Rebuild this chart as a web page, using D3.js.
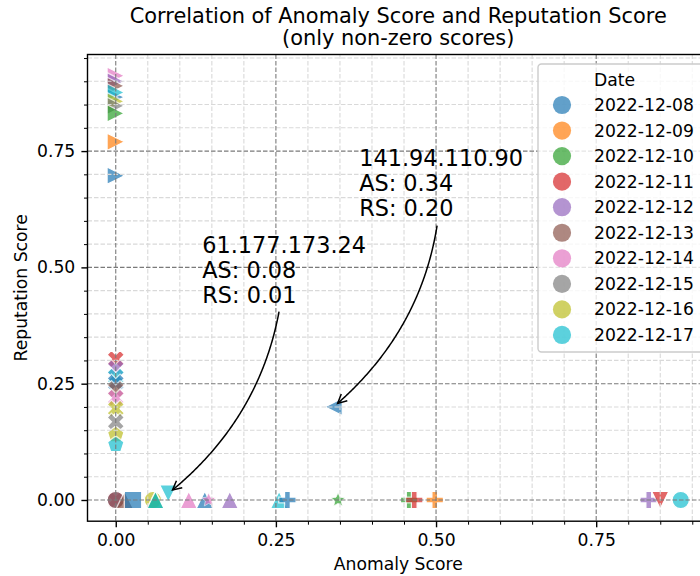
<!DOCTYPE html>
<html>
<head>
<meta charset="utf-8">
<script src="https://cdn.jsdelivr.net/npm/d3@7"></script>
<style>
  body { margin: 0; background: #fff; }
  svg { display: block; font-family: "DejaVu Sans", sans-serif; }
</style>
</head>
<body>
<svg id="chart" width="700" height="576"></svg>
<script>
// hue categories (legend)
var dates = ["2022-12-08", "2022-12-09", "2022-12-10", "2022-12-11", "2022-12-12",
             "2022-12-13", "2022-12-14", "2022-12-15", "2022-12-16", "2022-12-17"];
var colors = ["#1f77b4", "#ff7f0e", "#2ca02c", "#d62728", "#9467bd",
              "#8c564b", "#e377c2", "#7f7f7f", "#bcbd22", "#17becf"];

// one entry per point, in drawing order
var pointDate = [6, 4, 5, 0, 9, 8, 7, 2, 1, 0,
                 3, 4, 9, 0, 5, 6, 8, 7, 8, 9,
                 3, 4, 5, 5, 0, 8, 2, 9, 9, 6,
                 0, 6, 4, 9, 0, 2, 2, 3, 1, 4,
                 3, 9, 0];
var pointMarker = [">", ">", ">", ">", ">", ">", ">", ">", ">", ">",
                   "X", "X", "X", "X", "X", "X", "X", "X", "p", "p",
                   "X", "o", "o", "^", "s", "o", "^", "^", "v", "^",
                   "^", "*", "^", "^", "P", "*", "P", "P", "P", "P",
                   "v", "o", "<"];
var anomalyScore = [0, 0, 0, 0, 0, 0, 0, 0, 0, 0,
                    0, 0, 0, 0, 0, 0, 0, 0, 0, 0,
                    0, 0, 0, 0.014, 0.027, 0.058, 0.062, 0.062, 0.082, 0.114,
                    0.139, 0.145, 0.178, 0.255, 0.268, 0.347, 0.458, 0.466, 0.498, 0.832,
                    0.850, 0.882, 0.340];
var reputationScore = [0.912, 0.900, 0.890, 0.866, 0.876, 0.857, 0.847, 0.831, 0.770, 0.697,
                       0.303, 0.283, 0.265, 0.252, 0.238, 0.220, 0.196, 0.168, 0.142, 0.121,
                       0, 0, 0, 0, 0, 0, 0, 0, 0.014, 0,
                       0, 0, 0, 0, 0, 0, 0, 0, 0, 0,
                       0, 0, 0.200];

// annotated addresses
var annotIp = ["141.94.110.90", "61.177.173.24"];
var annotAS = [0.340, 0.082];
var annotRS = [0.200, 0.014];
var annotTextAS = [0.380, 0.135];
var annotTextRS = [0.717, 0.530];

var majorTicks = [0, 0.25, 0.5, 0.75];

var W = 700, H = 576;
var plot = {left: 87.5, right: 709, top: 54.5, bottom: 521.2};
var fs = 17.2;            // tick / label / legend font size
var msize = 17.4;         // marker size
var alpha = 0.7;

var svg = d3.select("#chart");

function padded(ext) {
  var d = (ext[1] - ext[0]) * 0.05;
  return [ext[0] - d, ext[1] + d];
}

var x = d3.scaleLinear().domain(padded(d3.extent(anomalyScore))).range([plot.left, plot.right]);
var y = d3.scaleLinear().domain(padded(d3.extent(reputationScore))).range([plot.bottom, plot.top]);

function minorTicks(scale) {
  var dom = scale.domain(), out = [];
  for (var i = -5; i <= 25; i++) {
    if (i % 5 === 0) continue;
    var v = i * 0.05;
    if (v >= dom[0] && v <= dom[1]) out.push(v);
  }
  return out;
}

// matplotlib-like marker paths
function markerPath(m, s) {
  var h = s / 2, t = s / 6;
  switch (m) {
    case "o":
      return d3.symbol().type(d3.symbolCircle).size(Math.PI * h * h)();
    case "s":
      return "M" + -h + "," + -h + "H" + h + "V" + h + "H" + -h + "Z";
    case "^":
      return "M0," + -h + "L" + h + "," + h + "L" + -h + "," + h + "Z";
    case "v":
      return "M0," + h + "L" + h + "," + -h + "L" + -h + "," + -h + "Z";
    case "<":
      return "M" + -h + ",0L" + h + "," + -h + "L" + h + "," + h + "Z";
    case ">":
      return "M" + h + ",0L" + -h + "," + -h + "L" + -h + "," + h + "Z";
    case "P":
      return "M" + -t + "," + -h + "H" + t + "V" + -t + "H" + h + "V" + t + "H" + t +
             "V" + h + "H" + -t + "V" + t + "H" + -h + "V" + -t + "H" + -t + "Z";
    case "X":
      var q = s / 4;
      var pts = [[-q, -h], [0, -q], [q, -h], [h, -q], [q, 0], [h, q], [q, h], [0, q], [-q, h], [-h, q], [-q, 0], [-h, -q]];
      return "M" + pts.map(function(p) { return p.join(","); }).join("L") + "Z";
    case "p":
      var pp = d3.range(5).map(function(i) {
        var a = -Math.PI / 2 + i * 2 * Math.PI / 5;
        return [h * Math.cos(a), h * Math.sin(a) + h * 0.1];
      });
      return "M" + pp.map(function(p) { return p.join(","); }).join("L") + "Z";
    case "*":
      var ro = s * 0.42, ri = ro * 0.47;
      var sp = d3.range(10).map(function(i) {
        var a = -Math.PI / 2 + i * Math.PI / 5, r = i % 2 ? ri : ro;
        return [r * Math.cos(a), r * Math.sin(a)];
      });
      return "M" + sp.map(function(p) { return p.join(","); }).join("L") + "Z";
  }
}

svg.append("rect").attr("width", W).attr("height", H).attr("fill", "#fff");

svg.append("defs").append("clipPath").attr("id", "clip")
  .append("rect")
    .attr("x", plot.left).attr("y", plot.top)
    .attr("width", plot.right - plot.left).attr("height", plot.bottom - plot.top);

// points
var pts = svg.append("g").attr("clip-path", "url(#clip)");
pts.selectAll("path.pt")
    .data(anomalyScore)
  .enter().append("path")
    .attr("class", "pt")
    .attr("d", function(d, i) { return markerPath(pointMarker[i], msize); })
    .attr("transform", function(d, i) { return "translate(" + x(d) + "," + y(reputationScore[i]) + ")"; })
    .attr("fill", function(d, i) { return colors[pointDate[i]]; })
    .attr("stroke", "#fff")
    .attr("stroke-width", function(d, i) { return pointMarker[i] === "*" ? 0.8 : 1.3; })
    .attr("opacity", alpha);

// grid (drawn above the scatter, as matplotlib does by default)
var grid = svg.append("g").attr("clip-path", "url(#clip)").attr("fill", "none");
grid.selectAll("line.xmin").data(minorTicks(x)).enter().append("line")
    .attr("x1", x).attr("x2", x).attr("y1", plot.top).attr("y2", plot.bottom)
    .attr("stroke", "#d9d9d9").attr("stroke-width", 1.1).attr("stroke-dasharray", "4.5,2");
grid.selectAll("line.ymin").data(minorTicks(y)).enter().append("line")
    .attr("y1", y).attr("y2", y).attr("x1", plot.left).attr("x2", plot.right)
    .attr("stroke", "#d9d9d9").attr("stroke-width", 1.1).attr("stroke-dasharray", "4.5,2");
grid.selectAll("line.xmaj").data(majorTicks).enter().append("line")
    .attr("x1", x).attr("x2", x).attr("y1", plot.top).attr("y2", plot.bottom)
    .attr("stroke", "#7a7a7a").attr("stroke-width", 1.1).attr("stroke-dasharray", "4.5,2");
grid.selectAll("line.ymaj").data(majorTicks).enter().append("line")
    .attr("y1", y).attr("y2", y).attr("x1", plot.left).attr("x2", plot.right)
    .attr("stroke", "#7a7a7a").attr("stroke-width", 1.1).attr("stroke-dasharray", "4.5,2");

// axes
var fmt = d3.format(".2f");
function styleAxis(g) {
  g.select(".domain").remove();
  g.selectAll(".tick line").attr("stroke", "#000").attr("stroke-width", 1.4);
  g.selectAll(".tick text").attr("fill", "#000").style("font-size", fs + "px")
    .style("font-family", "DejaVu Sans");
}
svg.append("g").attr("transform", "translate(0," + plot.bottom + ")")
  .call(d3.axisBottom(x).tickValues(minorTicks(x)).tickSize(3.5).tickFormat(""))
  .call(styleAxis).selectAll(".tick line").attr("stroke-width", 1);
svg.append("g").attr("transform", "translate(" + plot.left + ",0)")
  .call(d3.axisLeft(y).tickValues(minorTicks(y)).tickSize(3.5).tickFormat(""))
  .call(styleAxis).selectAll(".tick line").attr("stroke-width", 1);
svg.append("g").attr("transform", "translate(0," + plot.bottom + ")")
  .call(d3.axisBottom(x).tickValues(majorTicks).tickSize(6.1).tickPadding(6.1).tickFormat(fmt))
  .call(styleAxis);
svg.append("g").attr("transform", "translate(" + plot.left + ",0)")
  .call(d3.axisLeft(y).tickValues(majorTicks).tickSize(6.1).tickPadding(6.1).tickFormat(fmt))
  .call(styleAxis);

// spines
svg.append("rect")
    .attr("x", plot.left).attr("y", plot.top)
    .attr("width", plot.right - plot.left).attr("height", plot.bottom - plot.top)
    .attr("fill", "none").attr("stroke", "#000").attr("stroke-width", 1.4);

// annotations
var afs = 22.4, lineH = 25;
annotIp.forEach(function(ip, k) {
  var lines = [ip, "AS: " + fmt(annotAS[k]), "RS: " + fmt(annotRS[k])];
  var tx = x(annotTextAS[k]), ty = y(annotTextRS[k]);
  var t = svg.append("text").attr("x", tx).attr("y", ty)
      .style("font-size", afs + "px").attr("fill", "#000");
  t.selectAll("tspan").data(lines).enter().append("tspan")
      .attr("x", tx).attr("y", function(d, i) { return ty + i * lineH; })
      .text(function(d) { return d; });
  var bb = t.node().getBBox();
  var p1 = [bb.x + bb.width / 2, bb.y + bb.height / 2];
  var p2 = [x(annotAS[k]), y(annotRS[k])];
  var rad = -0.22;
  var c = [(p1[0] + p2[0]) / 2 - rad * (p2[1] - p1[1]), (p1[1] + p2[1]) / 2 + rad * (p2[0] - p1[0])];
  var curve = [];
  d3.range(0, 1.0001, 0.005).forEach(function(s) {
    var a = (1 - s) * (1 - s), b = 2 * s * (1 - s), e = s * s;
    var px = a * p1[0] + b * c[0] + e * p2[0], py = a * p1[1] + b * c[1] + e * p2[1];
    var inBox = px > bb.x - 3 && px < bb.x + bb.width + 3 && py > bb.y - 3 && py < bb.y + bb.height + 3;
    var near = Math.hypot(px - p2[0], py - p2[1]) < 5;
    if (!inBox && !near) curve.push([px, py]);
  });
  svg.append("path").attr("d", d3.line()(curve))
      .attr("fill", "none").attr("stroke", "#000").attr("stroke-width", 1.5);
  var tip = curve[curve.length - 1], back = curve[curve.length - 4];
  var ang = Math.atan2(tip[1] - back[1], tip[0] - back[0]);
  var hl = 10, hw = 0.47;
  var head = [
    [tip[0] - hl * Math.cos(ang - hw), tip[1] - hl * Math.sin(ang - hw)],
    tip,
    [tip[0] - hl * Math.cos(ang + hw), tip[1] - hl * Math.sin(ang + hw)]
  ];
  svg.append("path").attr("d", d3.line()(head))
      .attr("fill", "none").attr("stroke", "#000").attr("stroke-width", 1.5);
});

// axis labels and title
svg.append("text").attr("x", (plot.left + plot.right) / 2).attr("y", 570)
    .attr("text-anchor", "middle").style("font-size", fs + "px").text("Anomaly Score");
svg.append("text").attr("transform", "translate(27," + (plot.top + plot.bottom) / 2 + ") rotate(-90)")
    .attr("text-anchor", "middle").style("font-size", fs + "px").text("Reputation Score");
svg.append("text").attr("x", (plot.left + plot.right) / 2).attr("y", 22.5)
    .attr("text-anchor", "middle").style("font-size", "20.9px")
    .text("Correlation of Anomaly Score and Reputation Score");
svg.append("text").attr("x", (plot.left + plot.right) / 2).attr("y", 44.5)
    .attr("text-anchor", "middle").style("font-size", "20.9px")
    .text("(only non-zero scores)");

// legend
var leg = svg.append("g");
leg.append("rect").attr("x", 538).attr("y", 64).attr("width", 180).attr("height", 288)
    .attr("rx", 3.5).attr("fill", "#fff").attr("fill-opacity", 0.8)
    .attr("stroke", "#cccccc").attr("stroke-width", 1.4);
leg.append("text").attr("x", 594).attr("y", 79.5).attr("dy", "0.35em")
    .style("font-size", fs + "px").text("Date");
var items = leg.selectAll("g.item").data(dates).enter().append("g")
    .attr("transform", function(d, i) { return "translate(0," + (105 + i * 25.55) + ")"; });
items.append("circle").attr("cx", 562).attr("r", msize / 2 + 0.4)
    .attr("fill", function(d, i) { return colors[i]; }).attr("opacity", alpha);
items.append("text").attr("x", 594).attr("dy", "0.35em")
    .style("font-size", fs + "px").text(function(d) { return d; });
</script>
</body>
</html>
